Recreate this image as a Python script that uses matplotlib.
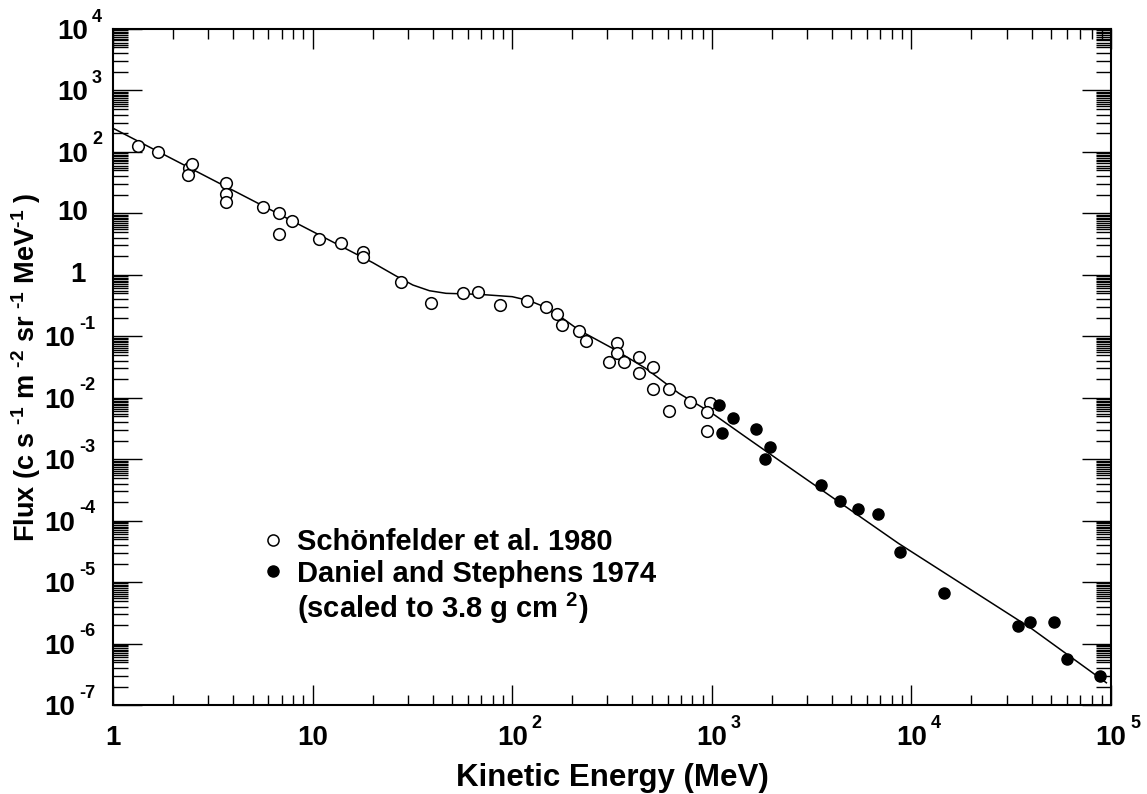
import numpy as np
import matplotlib
matplotlib.use('Agg')
import matplotlib.pyplot as plt
from matplotlib import ticker, transforms
from matplotlib.lines import Line2D

# fitted spectrum
E_curve = [1.0, 3.16, 10.0, 20.0, 26.2, 31.8, 38.5, 46.6, 68.4, 100, 122, 147, 179, 216,
           318, 466, 684, 1005, 1472, 2163, 8610, 39800, 94800]
F_curve = [243, 35.1, 5.07, 1.58, 0.957, 0.682, 0.551, 0.500, 0.481, 0.441, 0.379, 0.296,
           0.196, 0.126, 0.0637, 0.0301, 0.0118, 0.00557, 0.00232, 9.68e-4, 4.27e-5,
           1.77e-6, 2.30e-7]

# Schonfelder et al. 1980 (open)
E_open = [1.34, 1.69, 2.41, 2.38, 2.49, 3.69, 3.69, 3.69, 5.64, 6.78, 6.78, 7.92, 10.8,
          13.9, 17.8, 17.8, 27.8, 39.2, 56.4, 67.1, 86.8, 118, 147, 167, 177, 216, 235,
          334, 334, 305, 364, 432, 432, 509, 509, 610, 610, 782, 977, 948, 948]
F_open = [126, 100, 54, 42, 63, 31.5, 21, 15.3, 12.8, 10.3, 4.56, 7.6, 3.83, 3.33, 2.38,
          1.97, 0.77, 0.35, 0.50, 0.53, 0.32, 0.38, 0.30, 0.23, 0.152, 0.123, 0.084,
          0.079, 0.054, 0.0386, 0.0386, 0.0466, 0.0255, 0.032, 0.0139, 0.0137, 0.00615,
          0.0084, 0.0081, 0.00578, 0.0029]

# Daniel and Stephens 1974 (filled)
E_fill = [1084, 1126, 1278, 1666, 1965, 1855, 3535, 4400, 5390, 6840, 8810, 14600,
          34300, 39200, 51900, 60500, 88500]
F_fill = [0.0076, 0.0027, 0.00462, 0.00306, 0.00156, 0.0010, 3.8e-4, 2.08e-4, 1.53e-4,
          1.26e-4, 3.05e-5, 6.7e-6, 1.93e-6, 2.26e-6, 2.26e-6, 5.6e-7, 3.0e-7]

x_decades = [0, 1, 2, 3, 4, 5]
y_decades = list(range(-7, 5))
labels = ['Sch\u00f6nfelder et al. 1980', 'Daniel and Stephens 1974',
          '(scaled to 3.8 g cm $^{2}$)']

plt.rcParams['font.family'] = ['Liberation Sans', 'DejaVu Sans']
plt.rcParams['font.weight'] = 'bold'
plt.rcParams['mathtext.fontset'] = 'custom'
plt.rcParams['mathtext.rm'] = 'Liberation Sans:bold'
plt.rcParams['mathtext.it'] = 'Liberation Sans:bold'
plt.rcParams['mathtext.bf'] = 'Liberation Sans:bold'
plt.rcParams['axes.linewidth'] = 1.5

# axes box in pixels
L, R, T, B = 113, 1111, 29, 705
W, H = float(R - L), float(B - T)
fig = plt.figure(figsize=(11.47, 7.94), dpi=100)
ax = fig.add_axes([L / 1147, (794 - B) / 794, W / 1147, H / 794])

ax.plot(E_curve, F_curve, color='k', lw=1.1)
ax.plot(E_open, F_open, 'o', mfc='white', mec='k', ms=8.4, mew=1.1, ls='none')
ax.plot(E_fill, F_fill, 'o', mfc='k', mec='k', ms=8.0, ls='none')

ax.set_xscale('log')
ax.set_yscale('log')
ax.set_xlim(1, 1e5)
ax.set_ylim(1e-7, 1e4)

ax.xaxis.set_major_locator(ticker.LogLocator(base=10, numticks=20))
ax.xaxis.set_minor_locator(ticker.LogLocator(base=10, subs=np.arange(2, 10), numticks=20))
ax.yaxis.set_major_locator(ticker.LogLocator(base=10, numticks=30))
ax.yaxis.set_minor_locator(ticker.LogLocator(
    base=10, subs=[2, 3, 4, 5, 5.5, 6, 6.5, 7, 7.5, 8, 8.5, 9, 9.5], numticks=30))
for a in (ax.xaxis, ax.yaxis):
    a.set_major_formatter(ticker.NullFormatter())
    a.set_minor_formatter(ticker.NullFormatter())
ax.tick_params(which='both', direction='in', top=True, right=True, width=1.0)
ax.tick_params(axis='x', which='major', length=14.4)
ax.tick_params(axis='x', which='minor', length=7.2)
ax.tick_params(axis='y', which='major', length=21)
ax.tick_params(axis='y', which='minor', length=10.8)

# tick labels, "10" plus a raised exponent
FS, FSUP = 20, 13
ty = transforms.blended_transform_factory(ax.transAxes, ax.transData)
for k in y_decades:
    v = 10.0 ** k
    if k == 0:
        ax.text((86 - L) / W, v, '1', transform=ty, ha='right', va='center', fontsize=FS)
    elif k == 1:
        ax.text((88 - L) / W, v, '10', transform=ty, ha='right', va='center', fontsize=FS)
    else:
        xr = 88 if k > 0 else 75
        ax.text((xr - L) / W, v, '10', ha='right', va='center', fontsize=FS,
                transform=transforms.offset_copy(ty, fig=fig, y=-3, units='dots'))
        ax.text((xr + 4 - L) / W, v, str(k), ha='left', va='center', fontsize=FSUP,
                transform=transforms.offset_copy(ty, fig=fig, y=12, units='dots'))

tx = transforms.blended_transform_factory(ax.transData, ax.transAxes)
ylab = (B - 738) / H
for k in x_decades:
    v = 10.0 ** k
    s = '1' if k == 0 else '10'
    ax.text(v, ylab, s, transform=tx, ha='center', va='center', fontsize=FS)
    if k >= 2:
        ax.text(v, ylab, str(k), ha='left', va='center', fontsize=FSUP,
                transform=transforms.offset_copy(tx, fig=fig, x=19, y=14, units='dots'))

ax.set_xlabel('Kinetic Energy (MeV)', fontsize=22.5, fontweight='bold', va='center')
ax.xaxis.set_label_coords(0.5, (B - 778) / H)
ax.set_ylabel(r'Flux (c s $^{\text{-1}}$ m $^{\text{-2}}$ sr $^{\text{-1}}$ MeV$^{\text{-1}}$ )',
              fontsize=19.5, fontweight='bold', va='center')
ax.yaxis.set_label_coords((26 - L) / W, 0.5)

handles = [Line2D([], [], ls='none', marker='o', mfc='white', mec='k', ms=8, mew=1.1),
           Line2D([], [], ls='none', marker='o', mfc='k', mec='k', ms=8),
           Line2D([], [], ls='none')]
ax.legend(handles, labels, loc='upper left', bbox_to_anchor=((261 - L) / W, (B - 528) / H),
          frameon=False, fontsize=21, handlelength=0.8, handletextpad=0.45,
          labelspacing=0.12, borderpad=0, borderaxespad=0)

fig.savefig('out.png', dpi=100)
